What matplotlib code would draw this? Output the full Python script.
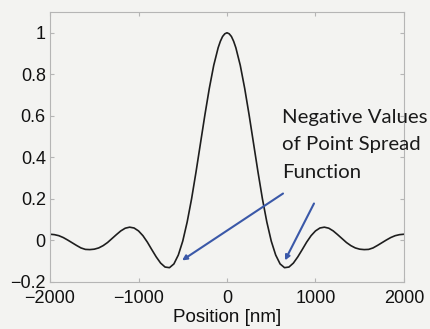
import numpy as np
import matplotlib
matplotlib.use("Agg")
import matplotlib.pyplot as plt

# Positions (nm) on the right half; curve is symmetric about 0
pos_right = [0, 25, 50, 75, 100, 150, 200, 250, 300, 350, 400, 450, 500, 550, 600, 650,
             700, 750, 800, 850, 900, 950, 1000, 1050, 1100, 1150, 1200, 1250,
             1300, 1350, 1400, 1450, 1500, 1550, 1600, 1650, 1700, 1750, 1800,
             1850, 1900, 1950, 2000]
psf_right = [1.0, 0.995, 0.982, 0.959, 0.928, 0.843, 0.732, 0.604, 0.467, 0.330, 0.201, 0.089,
             -0.003, -0.070, -0.113, -0.131, -0.128, -0.109, -0.079, -0.044,
             -0.008, 0.023, 0.046, 0.060, 0.064, 0.059, 0.046, 0.028, 0.009,
             -0.010, -0.025, -0.036, -0.042, -0.044, -0.043, -0.036, -0.024,
             -0.011, 0.002, 0.014, 0.023, 0.028, 0.030]

positions = [-p for p in pos_right[:0:-1]] + pos_right
psf = psf_right[:0:-1] + psf_right

xticks = [-2000, -1000, 0, 1000, 2000]
yticks = [-0.2, 0, 0.2, 0.4, 0.6, 0.8, 1]
yticklabels = ["\u22120.2", "0", "0.2", "0.4", "0.6", "0.8", "1"]
xticklabels = ["\u22122000", "\u22121000", "0", "1000", "2000"]

bg = "#f3f3f1"
fig = plt.figure(figsize=(4.31, 3.29), dpi=100, facecolor=bg)
ax = fig.add_axes([50/431, 1-282/329, 354/431, 270/329])
ax.set_facecolor(bg)
ax.plot(positions, psf, color="#1e1e1e", lw=1.2)
ax.set_xlim(-2000, 2000)
ax.set_ylim(-0.2, 1.1)
ax.set_xticks(xticks)
ax.set_xticklabels(xticklabels)
ax.set_yticks(yticks)
ax.set_yticklabels(yticklabels)
for s in ax.spines.values():
    s.set_color("#b5b5b5")
    s.set_linewidth(0.8)
ax.tick_params(direction="in", length=3, color="#b5b5b5", top=True, right=True,
               labelsize=13, labelcolor="#111111")
ax.tick_params(axis="y", pad=3)
ax.tick_params(axis="x", pad=6)
for lbl in ax.get_xticklabels() + ax.get_yticklabels():
    lbl.set_fontfamily("Liberation Sans")
ax.set_xlabel("Position [nm]", fontsize=13.5, family="Liberation Sans",
              color="#111111", labelpad=1.5)

ax.text(621, 0.635, "Negative Values\nof Point Spread\nFunction",
        fontsize=14.7, family="Lato", color="#1a1a1a", va="top", ha="left",
        linespacing=1.78)

arrow_color = "#3a58a8"
ax.annotate("", xy=(-508, -0.096), xytext=(633, 0.226),
            arrowprops=dict(arrowstyle="-|>", color=arrow_color, lw=1.5,
                            mutation_scale=7, shrinkA=0, shrinkB=0))
ax.annotate("", xy=(655, -0.096), xytext=(983, 0.178),
            arrowprops=dict(arrowstyle="-|>", color=arrow_color, lw=1.5,
                            mutation_scale=7, shrinkA=0, shrinkB=0))

fig.savefig("out.png", dpi=100, facecolor=bg)
